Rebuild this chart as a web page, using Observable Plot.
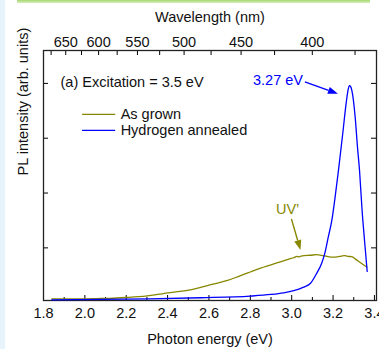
<!DOCTYPE html>
<html><head><meta charset="utf-8">
<script src="https://cdn.jsdelivr.net/npm/d3@7"></script>
<script src="https://cdn.jsdelivr.net/npm/@observablehq/plot@0.6"></script>
<style>
body{margin:0;background:#fff;}
#wrap{position:relative;width:379px;height:349px;overflow:hidden;background:#fff}
#chart{position:absolute;left:0;top:0}
#strip{position:absolute;left:0;top:0;width:5px;height:349px;background:#e8f4fc}
#bar{position:absolute;left:17px;top:0;width:353px;height:3px;background:linear-gradient(#a6d874,#d6eebd)}
svg text{font-family:"Liberation Sans",Arial,sans-serif}
</style></head><body>
<div id="wrap"><div id="chart"></div><div id="strip"></div><div id="bar"></div></div>
<script>
// As grown (olive)
const energyAsGrown = [1.84,1.90,1.99,2.06,2.12,2.20,2.26,2.31,2.36,2.40,2.46,2.51,2.56,2.62,2.69,2.75,2.80,2.85,2.90,2.94,2.99,3.01,3.025,3.035,3.045,3.06,3.09,3.12,3.15,3.17,3.20,3.22,3.24,3.255,3.27,3.29,3.31,3.34,3.363];
const intensityAsGrown = [0.07,0.07,0.07,0.075,0.08,0.095,0.11,0.13,0.155,0.18,0.205,0.235,0.28,0.34,0.405,0.49,0.56,0.63,0.69,0.74,0.80,0.82,0.845,0.835,0.85,0.86,0.865,0.875,0.86,0.845,0.83,0.835,0.85,0.86,0.845,0.84,0.79,0.71,0.65];
// Hydrogen annealed (blue)
const energyH = [1.84,2.07,2.31,2.56,2.80,2.90,2.96,3.01,3.055,3.09,3.12,3.145,3.16,3.177,3.194,3.21,3.226,3.247,3.263,3.272,3.279,3.285,3.291,3.307,3.318,3.328,3.34,3.352,3.365];
const intensityH = [0.05,0.06,0.07,0.09,0.12,0.15,0.18,0.22,0.28,0.35,0.53,0.72,0.90,1.20,1.50,1.93,2.41,3.09,3.63,3.87,3.96,3.94,3.87,3.38,2.84,2.41,1.70,1.14,0.57];

const xMajorTicks = [1.8,2.0,2.2,2.4,2.6,2.8,3.0,3.2,3.4];
const xMinorTicks = [1.9,2.1,2.3,2.5,2.7,2.9,3.1,3.3];
const wavelengthMajor = [650,600,550,500,450,400];
const wavelengthMinor = [675,625,575,525,475,425,375];
const yTicks = [1,2,3,4];
const seriesNames = ["As grown","Hydrogen annealed"];
const olive = "#878700", blue = "#0000ff";
const hc = 1239.84;

const asGrown = energyAsGrown.map((e,i)=>({e, v: intensityAsGrown[i]}));
const hydro = energyH.map((e,i)=>({e, v: intensityH[i]}));
const fs = 14.5;
const svgns = "http://www.w3.org/2000/svg";

function arrow(x1,y1,x2,y2,color){
  return (index, scales) => {
    const X1 = scales.x(x1), Y1 = scales.y(y1), X2 = scales.x(x2), Y2 = scales.y(y2);
    const a = Math.atan2(Y2-Y1, X2-X1), L = 10, W = 3.6;
    const bx = X2 - L*Math.cos(a), by = Y2 - L*Math.sin(a);
    const g = document.createElementNS(svgns,"g");
    const ln = document.createElementNS(svgns,"line");
    ln.setAttribute("x1",X1); ln.setAttribute("y1",Y1); ln.setAttribute("x2",bx); ln.setAttribute("y2",by);
    ln.setAttribute("stroke",color); ln.setAttribute("stroke-width",1.4);
    const p = document.createElementNS(svgns,"polygon");
    p.setAttribute("points",`${X2},${Y2} ${bx+W*Math.sin(a)},${by-W*Math.cos(a)} ${bx-W*Math.sin(a)},${by+W*Math.cos(a)}`);
    p.setAttribute("fill",color);
    g.appendChild(ln); g.appendChild(p);
    return g;
  };
}

const chart = Plot.plot({
  width: 379, height: 349,
  marginLeft: 43, marginRight: 3, marginTop: 50, marginBottom: 49,
  style: {fontFamily: '"Liberation Sans", Arial, sans-serif', fontSize: fs + "px", background: "transparent"},
  x: {domain: [1.8, 3.41], axis: null},
  y: {domain: [0.04, 4.6], axis: null},
  marks: [
    // inward ticks
    Plot.ruleX(xMajorTicks.filter(d=>d>1.8), {x: d=>d, insetTop: 245, stroke: "#000"}),
    Plot.ruleX(xMinorTicks, {x: d=>d, insetTop: 247, stroke: "#000"}),
    Plot.ruleX(wavelengthMajor.concat(wavelengthMinor), {x: d=>hc/d, insetBottom: 245, stroke: "#000"}),
    Plot.ruleY(yTicks, {y: d=>d, insetRight: 328, stroke: "#000"}),
    Plot.ruleY(yTicks, {y: d=>d, insetLeft: 328, stroke: "#000"}),
    Plot.frame({stroke: "#222", strokeWidth: 1.3}),
    // tick labels
    Plot.text(xMajorTicks, {x: d=>d, text: d=>d.toFixed(1), frameAnchor: "bottom", lineAnchor: "middle", dy: 13, fontSize: fs, fill: "#111"}),
    Plot.text(wavelengthMajor, {x: d=>hc/d, text: d=>String(d), frameAnchor: "top", lineAnchor: "middle", dy: -8, fontSize: fs, fill: "#111"}),
    Plot.text(["Photon energy (eV)"], {text: d=>d, frameAnchor: "bottom", lineAnchor: "middle", dy: 39, fontSize: fs, fill: "#111"}),
    Plot.text(["Wavelength (nm)"], {text: d=>d, frameAnchor: "top", lineAnchor: "middle", dy: -33, fontSize: fs, fill: "#111"}),
    Plot.text(["PL intensity (arb. units)"], {text: d=>d, frameAnchor: "left", lineAnchor: "middle", dx: -20, rotate: -90, fontSize: fs, fill: "#111"}),
    // data
    Plot.line(asGrown, {x: "e", y: "v", stroke: olive, strokeWidth: 1.3, curve: "monotone-x"}),
    Plot.line(hydro, {x: "e", y: "v", stroke: blue, strokeWidth: 1.3, curve: "monotone-x"}),
    // legend
    Plot.text(["(a) Excitation = 3.5 eV"], {text: d=>d, frameAnchor: "top-left", dx: 17, dy: 32, lineAnchor: "middle", textAnchor: "start", fontSize: fs, fill: "#111"}),
    Plot.ruleY([3.434], {y: d=>d, x1: 1.989, x2: 2.149, stroke: olive, strokeWidth: 1.3}),
    Plot.ruleY([3.142], {y: d=>d, x1: 1.989, x2: 2.149, stroke: blue, strokeWidth: 1.3}),
    Plot.text(seriesNames, {x: 2.173, y: (d,i)=> i===0 ? 3.434 : 3.142, text: d=>d, textAnchor: "start", fontSize: fs, fill: "#111"}),
    // annotations
    Plot.text(["3.27 eV"], {x: 2.813, y: 4.055, text: d=>d, textAnchor: "start", fontSize: fs, fill: blue}),
    arrow(3.066, 4.02, 3.226, 3.80, blue),
    Plot.text(["UV\u2019"], {x: 2.924, y: 1.70, text: d=>d, textAnchor: "start", fontSize: fs, fill: olive}),
    arrow(3.001, 1.52, 3.045, 0.95, olive)
  ]
});
document.getElementById("chart").appendChild(chart);
</script>
</body></html>
